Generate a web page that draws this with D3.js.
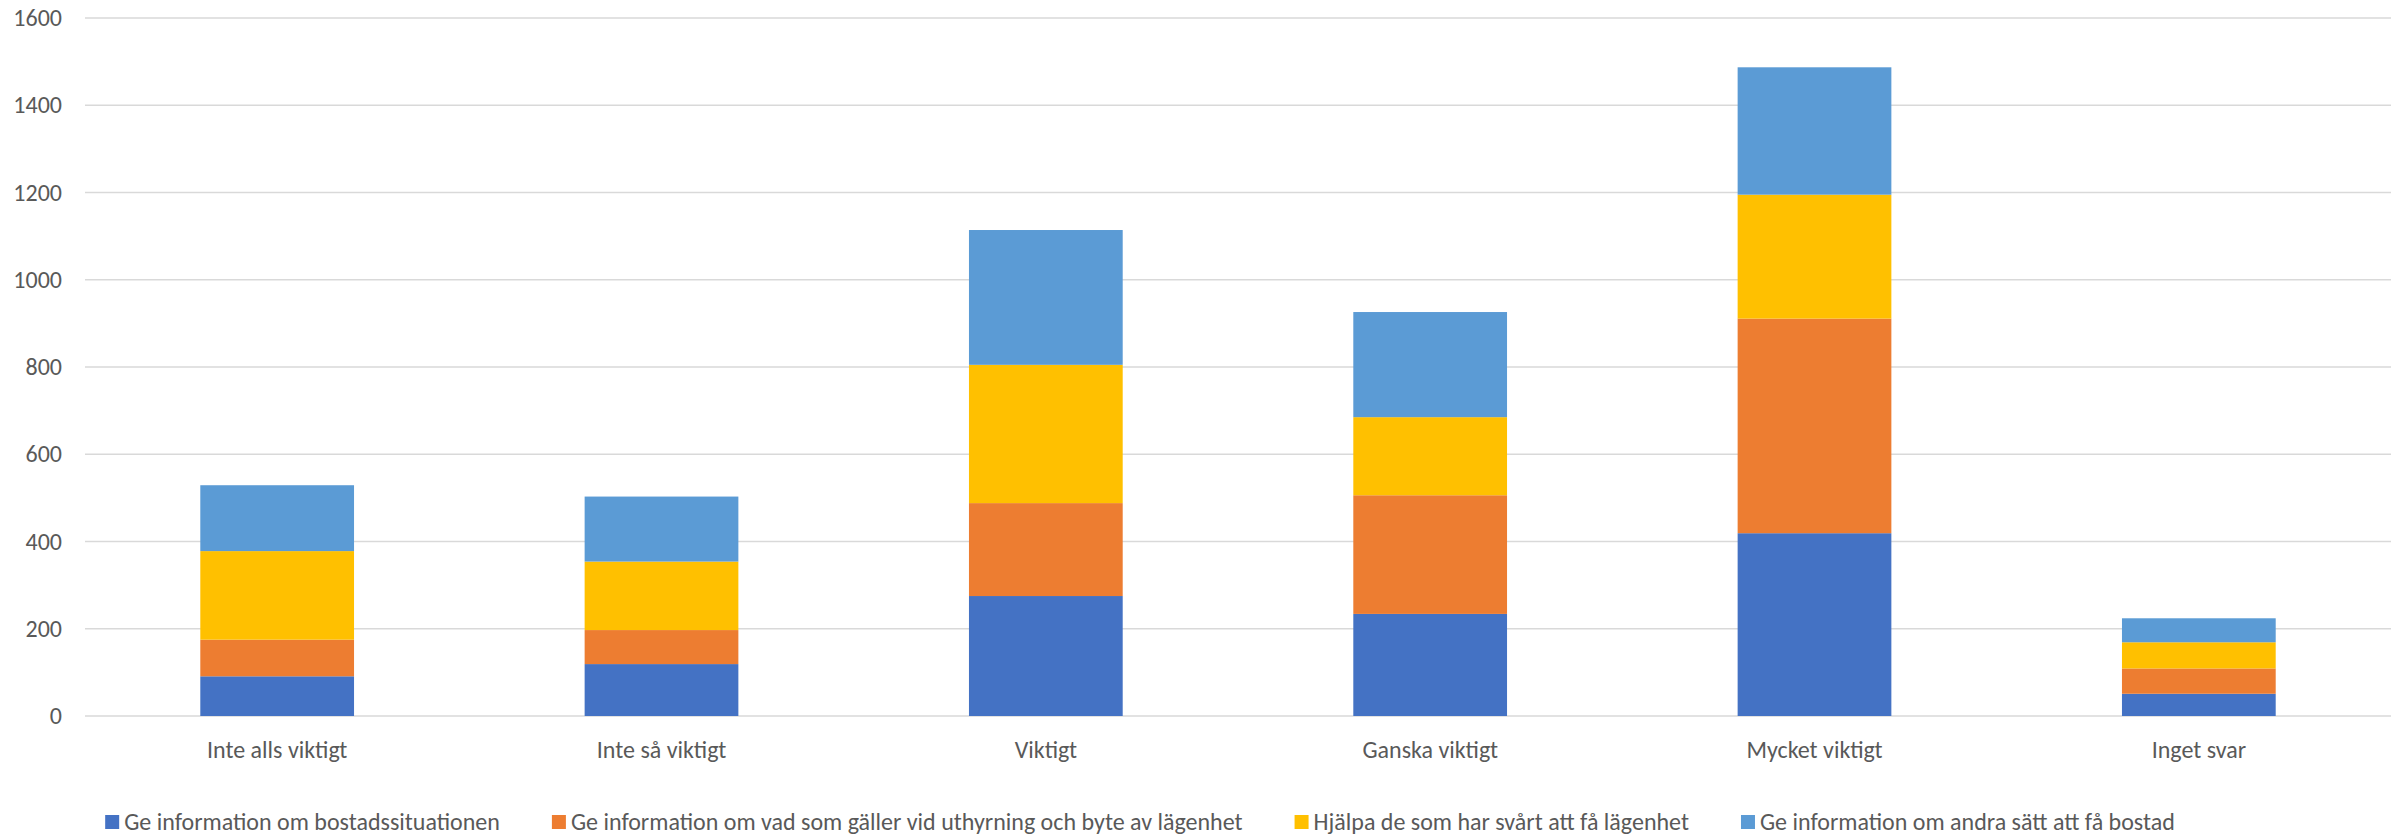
<!DOCTYPE html>
<html>
<head>
<meta charset="utf-8">
<script src="https://cdn.jsdelivr.net/npm/d3@7"></script>
<style>
  html, body { margin: 0; padding: 0; background: #ffffff; }
  svg { display: block; }
  text { font-family: Carlito, Calibri, Lato, sans-serif; fill: #595959; }
</style>
</head>
<body>
<svg id="chart" width="2408" height="837"></svg>
<script>
// Response categories on the x axis
const categories = ["Inte alls viktigt", "Inte så viktigt", "Viktigt", "Ganska viktigt", "Mycket viktigt", "Inget svar"];

// One array per stacked series, in category order
const seriesNames = [
  "Ge information om bostadssituationen",
  "Ge information om vad som gäller vid uthyrning och byte av lägenhet",
  "Hjälpa de som har svårt att få lägenhet",
  "Ge information om andra sätt att få bostad"
];
const bostadssituationen = [91, 119, 275, 234, 419, 51];
const uthyrningByte      = [84, 78, 213, 272, 492, 58];
const svartFaLagenhet    = [203, 157, 317, 179, 284, 60];
const andraSattBostad    = [151, 149, 309, 241, 292, 55];
const seriesColors = ["#4472C4", "#ED7D31", "#FFC000", "#5B9BD5"];

// Y axis ticks
const yTicks = [0, 200, 400, 600, 800, 1000, 1200, 1400, 1600];

const seriesValues = [bostadssituationen, uthyrningByte, svartFaLagenhet, andraSattBostad];
const rows = categories.map((c, i) => {
  const r = { category: c };
  seriesNames.forEach((s, k) => { r[s] = seriesValues[k][i]; });
  return r;
});

const svg = d3.select("#chart");
const margin = { left: 85, right: 17, top: 18, bottom: 121 };
const W = 2408, H = 837;

const x = d3.scaleBand()
  .domain(categories)
  .range([margin.left, W - margin.right])
  .paddingInner(0.6)
  .paddingOuter(0.3);

const y = d3.scaleLinear()
  .domain([0, 1600])
  .range([H - margin.bottom, margin.top]);

// Horizontal gridlines
svg.append("g")
  .selectAll("line")
  .data(yTicks)
  .join("line")
  .attr("x1", margin.left)
  .attr("x2", W - margin.right)
  .attr("y1", d => y(d))
  .attr("y2", d => y(d))
  .attr("stroke", "#d9d9d9")
  .attr("stroke-width", 1.6);

// Y axis labels
const yAxis = d3.axisLeft(y).tickValues(yTicks).tickSize(0).tickPadding(23).tickFormat(d3.format("d"));
svg.append("g")
  .attr("transform", `translate(${margin.left},0)`)
  .call(yAxis)
  .call(g => g.select(".domain").remove())
  .call(g => g.selectAll("text")
    .attr("font-size", 24)
    .style("font-family", "Carlito, Calibri, Lato, sans-serif")
    .attr("fill", "#595959"));

// Stacked bars
const stack = d3.stack().keys(seriesNames);
const layers = stack(rows);

svg.append("g")
  .selectAll("g")
  .data(layers)
  .join("g")
  .attr("fill", (d, i) => seriesColors[i])
  .selectAll("rect")
  .data(d => d)
  .join("rect")
  .attr("x", d => x(d.data.category))
  .attr("width", x.bandwidth())
  .attr("y", d => y(d[1]))
  .attr("height", d => y(d[0]) - y(d[1]));

// X axis labels
const xAxis = d3.axisBottom(x).tickSize(0).tickPadding(25);
svg.append("g")
  .attr("transform", `translate(0,${y(0)})`)
  .call(xAxis)
  .call(g => g.select(".domain").remove())
  .call(g => g.selectAll("text")
    .attr("font-size", 24)
    .style("font-family", "Carlito, Calibri, Lato, sans-serif")
    .attr("fill", "#595959"));

// Legend
const legend = svg.append("g").attr("class", "legend");
const items = legend.selectAll("g")
  .data(seriesNames)
  .join("g");
items.append("rect")
  .attr("width", 14)
  .attr("height", 14)
  .attr("y", -7)
  .attr("fill", (d, i) => seriesColors[i]);
items.append("text")
  .attr("x", 19)
  .attr("dy", "0.35em")
  .attr("font-size", 24)
  .text(d => d);

let offset = 0;
items.each(function () {
  const g = d3.select(this);
  g.attr("transform", `translate(${offset},0)`);
  const tw = g.select("text").node().getComputedTextLength();
  offset += 19 + tw + 52;
});
const legendWidth = offset - 52;
legend.attr("transform", `translate(${1140 - legendWidth / 2},822)`);
</script>
</body>
</html>
